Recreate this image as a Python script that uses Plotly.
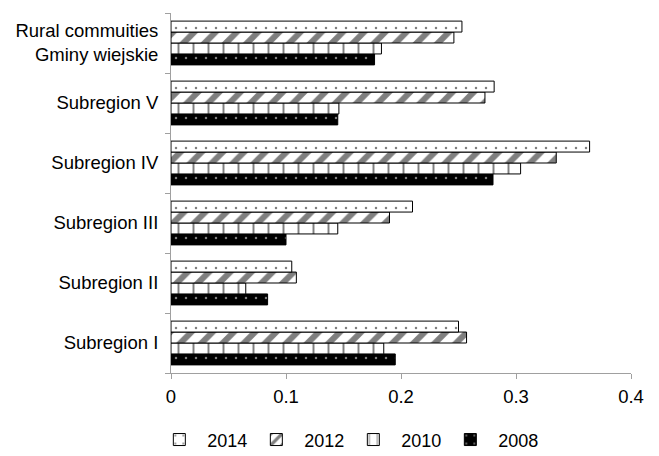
import plotly.graph_objects as go

categories = ["Subregion I", "Subregion II", "Subregion III", "Subregion IV",
              "Subregion V", "Rural commuities<br>Gminy wiejskie"]

v2014 = [0.250, 0.105, 0.210, 0.364, 0.281, 0.253]
v2012 = [0.257, 0.109, 0.190, 0.335, 0.273, 0.246]
v2010 = [0.185, 0.065, 0.145, 0.304, 0.146, 0.183]
v2008 = [0.195, 0.084, 0.100, 0.280, 0.145, 0.177]

x_ticks = [0, 0.1, 0.2, 0.3, 0.4]
x_ticktext = ["0", "0.1", "0.2", "0.3", "0.4"]

# bars drawn bottom-up inside each group: 2008 lowest, 2014 on top
# pattern tile sizes divide the 60px category step so every group looks alike
series = [
    ("2008", v2008, dict(shape=".", fgcolor="white", bgcolor="black", size=10, solidity=0.05)),
    ("2010", v2010, dict(shape="|", fgcolor="black", bgcolor="white", size=15, solidity=0.13)),
    ("2012", v2012, dict(shape="/", fgcolor="black", bgcolor="white", size=15, solidity=0.4)),
    ("2014", v2014, dict(shape=".", fgcolor="black", bgcolor="white", size=10, solidity=0.05)),
]

fig = go.Figure()
for name, vals, pat in series:
    fig.add_trace(go.Bar(
        y=categories,
        x=vals,
        name=name,
        orientation="h",
        marker=dict(color="white", line=dict(color="black", width=1), pattern=pat),
    ))

# page body adds an 8px offset, margins are trimmed for it
fig.update_layout(
    width=659, height=456,
    margin=dict(l=163, r=36, t=5, b=91),
    barmode="group",
    bargap=0.27,
    bargroupgap=0,
    plot_bgcolor="white",
    paper_bgcolor="white",
    font=dict(family="Arial, Liberation Sans, sans-serif", size=18.5, color="black"),
    legend=dict(orientation="h", traceorder="reversed", x=0.379, xanchor="center",
                yref="container", y=0.053, yanchor="middle", itemwidth=46,
                entrywidth=36, entrywidthmode="pixels", font=dict(size=18)),
)

fig.update_xaxes(range=[0, 0.4], tickvals=x_ticks, ticktext=x_ticktext,
                 showgrid=False, zeroline=False, automargin=False,
                 showline=True, linecolor="#a0a0a0", linewidth=1, ticklabelstandoff=2,
                 ticks="outside", ticklen=5, tickcolor="#a0a0a0", tickfont=dict(size=18.5))
fig.update_yaxes(showgrid=False, showline=True, linecolor="#a0a0a0", linewidth=1,
                 automargin=False, tickfont=dict(size=18.5), ticklabelstandoff=8,
                 ticks="outside", ticklen=5, tickcolor="#a0a0a0", tickson="boundaries")

fig.write_html("out.html")
